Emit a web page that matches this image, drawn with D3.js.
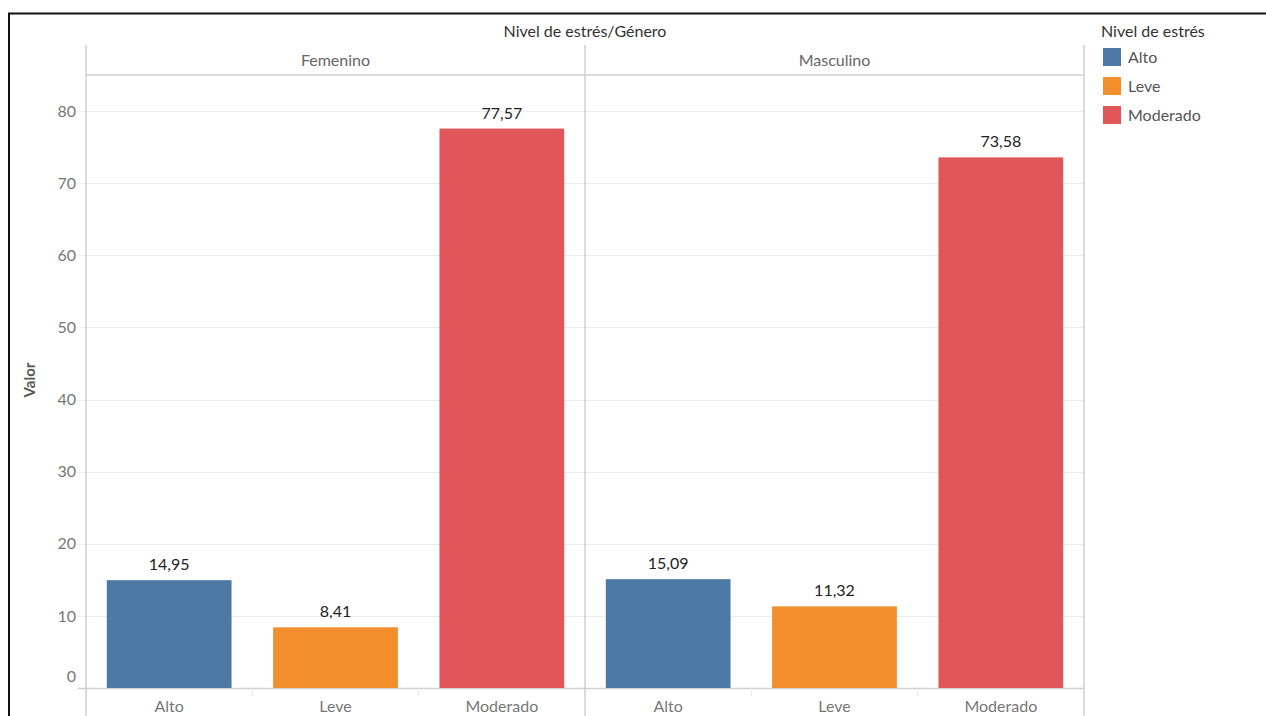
<!DOCTYPE html>
<html>
<head>
<meta charset="utf-8">
<script src="https://cdn.jsdelivr.net/npm/d3@7"></script>
<style>
  html, body { margin: 0; padding: 0; background: #fff; }
  svg { display: block; font-family: "Lato", "Open Sans", sans-serif; }
</style>
</head>
<body>
<svg id="chart" width="1266" height="716"></svg>
<script>
// Stress level by gender (values in %)
const genders = ["Femenino", "Masculino"];
const levels = ["Alto", "Leve", "Moderado"];
const femeninoValues = [14.95, 8.41, 77.57];
const masculinoValues = [15.09, 11.32, 73.58];
const levelColors = ["#4e79a7", "#f28e2b", "#e15759"];
const yTicks = [0, 10, 20, 30, 40, 50, 60, 70, 80];

const seriesByGender = { Femenino: femeninoValues, Masculino: masculinoValues };

const svg = d3.select("#chart");
const W = 1266, H = 716;

// outer frame
svg.append("path")
  .attr("d", `M9,${H} L9,13.5 L${W},13.5`)
  .attr("fill", "none").attr("stroke", "#111").attr("stroke-width", 2);

const plotLeft = 86, plotRight = 1084, headerTop = 45, headerBottom = 75, baseY = 688;

const facet = d3.scaleBand().domain(genders).range([plotLeft, plotRight]).paddingInner(0).paddingOuter(0);
const y = d3.scaleLinear().domain([0, 85]).range([baseY, headerBottom]);
const color = d3.scaleOrdinal().domain(levels).range(levelColors);
const fmt = v => d3.format(".2f")(v).replace(".", ",");

// gridlines
svg.append("g").selectAll("line").data(yTicks.filter(d => d > 0)).join("line")
  .attr("x1", 78).attr("x2", plotRight)
  .attr("y1", d => Math.round(y(d)) + 0.5).attr("y2", d => Math.round(y(d)) + 0.5)
  .attr("stroke", "#ececec").attr("stroke-width", 1);

// y axis labels (the zero label sits just above the baseline)
const yAxis = d3.axisLeft(y).tickValues(yTicks).tickSize(0).tickPadding(10);
const gy = svg.append("g").attr("transform", `translate(${plotLeft},0)`).call(yAxis);
gy.select(".domain").remove();
gy.selectAll("text").attr("fill", "#777").attr("font-size", 16).attr("font-family", "Lato, sans-serif");
gy.selectAll(".tick").filter(d => d === 0).select("text").attr("dy", "-0.4em");

// y axis title
svg.append("text")
  .attr("transform", `translate(35,380) rotate(-90)`)
  .attr("text-anchor", "middle")
  .attr("fill", "#555").attr("font-weight", "bold").attr("font-size", 15)
  .text("Valor");

// frame lines
const frame = svg.append("g").attr("stroke", "#cfcfcf").attr("stroke-width", 1.5).attr("fill", "none");
frame.append("line").attr("x1", plotLeft).attr("x2", plotLeft).attr("y1", headerTop).attr("y2", H);
frame.append("line").attr("x1", plotRight).attr("x2", plotRight).attr("y1", headerTop).attr("y2", H);
frame.append("line").attr("x1", facet("Masculino")).attr("x2", facet("Masculino")).attr("y1", headerTop).attr("y2", H);
frame.append("line").attr("x1", plotLeft).attr("x2", plotRight).attr("y1", headerBottom).attr("y2", headerBottom);
frame.append("line").attr("x1", 78).attr("x2", plotRight).attr("y1", baseY + 0.5).attr("y2", baseY + 0.5);

// title
svg.append("text")
  .attr("x", facet("Masculino")).attr("y", 37)
  .attr("text-anchor", "middle").attr("fill", "#333").attr("font-size", 16)
  .text("Nivel de estrés/Género");

// facets
genders.forEach(g => {
  const x0 = facet(g);
  const xb = d3.scaleBand().domain(levels).range([x0, x0 + facet.bandwidth()]).paddingInner(0.25).paddingOuter(0.125);
  const gf = svg.append("g");

  gf.append("text")
    .attr("x", x0 + facet.bandwidth() / 2).attr("y", 66)
    .attr("text-anchor", "middle").attr("fill", "#666").attr("font-size", 16)
    .text(g);

  const data = levels.map((l, i) => ({ level: l, value: seriesByGender[g][i] }));

  gf.selectAll("rect").data(data).join("rect")
    .attr("x", d => xb(d.level)).attr("width", xb.bandwidth())
    .attr("y", d => y(d.value)).attr("height", d => y(0) - y(d.value))
    .attr("fill", d => color(d.level));

  gf.selectAll("text.val").data(data).join("text").attr("class", "val")
    .attr("x", d => xb(d.level) + xb.bandwidth() / 2).attr("y", d => y(d.value) - 10)
    .attr("text-anchor", "middle").attr("fill", "#222").attr("font-size", 16)
    .text(d => fmt(d.value));

  // category separators under baseline
  const step = xb.step();
  gf.selectAll("line.sep").data(levels.slice(1)).join("line").attr("class", "sep")
    .attr("x1", d => xb(d) - step * 0.125).attr("x2", d => xb(d) - step * 0.125)
    .attr("y1", baseY).attr("y2", baseY + 8)
    .attr("stroke", "#e8e8e8").attr("stroke-width", 1);

  // category labels
  const xa = d3.axisBottom(xb).tickSize(0).tickPadding(13);
  const gx = gf.append("g").attr("transform", `translate(0,${baseY})`).call(xa);
  gx.select(".domain").remove();
  gx.selectAll("text").attr("fill", "#777").attr("font-size", 16).attr("font-family", "Lato, sans-serif");
});

// legend
const lg = svg.append("g").attr("transform", "translate(1101,0)");
lg.append("text").attr("x", 0).attr("y", 37).attr("fill", "#333").attr("font-size", 16).text("Nivel de estrés");
lg.selectAll("rect").data(levels).join("rect")
  .attr("x", 2).attr("y", (d, i) => 48 + i * 29).attr("width", 18).attr("height", 18)
  .attr("fill", d => color(d));
lg.selectAll("text.item").data(levels).join("text").attr("class", "item")
  .attr("x", 27).attr("y", (d, i) => 63 + i * 29)
  .attr("fill", "#555").attr("font-size", 16)
  .text(d => d);
</script>
</body>
</html>
